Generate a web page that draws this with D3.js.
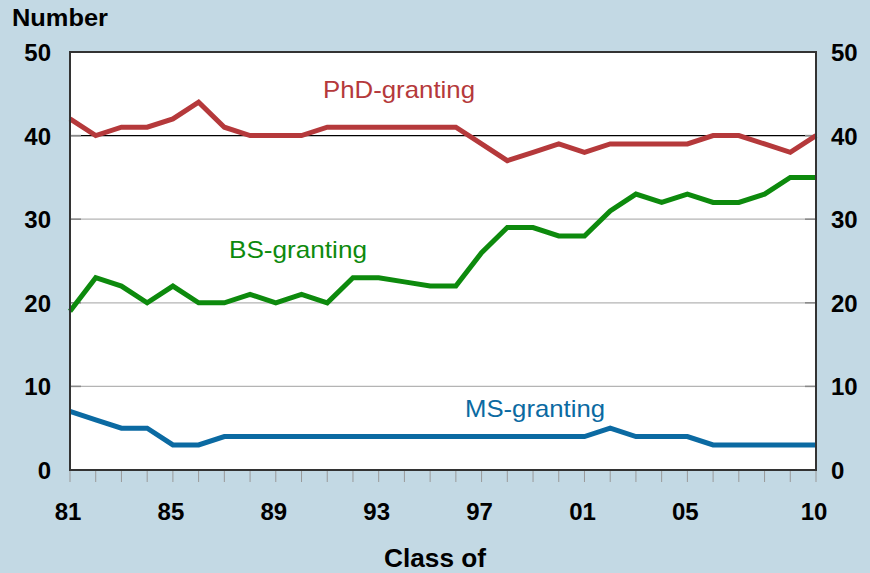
<!DOCTYPE html>
<html><head><meta charset="utf-8">
<script src="https://cdn.jsdelivr.net/npm/d3@7"></script>
<style>body{margin:0;background:#c3d9e4;}svg{display:block;}</style>
</head><body>
<svg id="chart" width="870" height="573"></svg>
<script>
const years = d3.range(1981, 2011);
const phd = [42,40,41,41,42,44,41,40,40,40,41,41,41,41,41,41,39,37,38,39,38,39,39,39,39,40,40,39,38,40];
const bs  = [19,23,22,20,22,20,20,21,20,21,20,23,23,22.5,22,22,26,29,29,28,28,31,33,32,33,32,32,33,35,35];
const ms  = [7,6,5,5,3,3,4,4,4,4,4,4,4,4,4,4,4,4,4,4,4,5,4,4,4,3,3,3,3,3];
const yTicks = [0,10,20,30,40,50];
const xTickLabels = [[1981,"81"],[1985,"85"],[1989,"89"],[1993,"93"],[1997,"97"],[2001,"01"],[2005,"05"],[2010,"10"]];
const seriesInfo = [
  {name:"PhD-granting", values:phd, color:"#b5393b", lx:323, ly:98, lw:152},
  {name:"BS-granting", values:bs, color:"#0d8a0d", lx:229, ly:258, lw:138},
  {name:"MS-granting", values:ms, color:"#0b6aa2", lx:465, ly:417, lw:140}
];

const svg = d3.select("#chart");
const L=70, R=816, T=52, B=470;
const x = d3.scaleLinear().domain([1981,2010]).range([L,R]);
const y = d3.scaleLinear().domain([0,50]).range([B,T]);
const font = "'Liberation Sans', Arial, sans-serif";

svg.append("rect").attr("width",870).attr("height",573).attr("fill","#c3d9e4");
svg.append("rect").attr("x",L).attr("y",T).attr("width",R-L).attr("height",B-T).attr("fill","#fff");

// gridlines
svg.append("g").selectAll("line").data(yTicks.filter(d=>d>0 && d<50)).join("line")
  .attr("x1",L).attr("x2",R).attr("y1",d=>y(d)).attr("y2",d=>y(d))
  .attr("stroke",d=>d===40?"#000":"#b4b4b4").attr("stroke-width",1.2);
// inner ticks
svg.append("g").selectAll("line").data(yTicks.filter(d=>d>0 && d<50)).join("line")
  .attr("x1",L).attr("x2",L+11).attr("y1",d=>y(d)).attr("y2",d=>y(d)).attr("stroke","#888").attr("stroke-width",1.5);
svg.append("g").selectAll("line").data(yTicks.filter(d=>d>0 && d<50)).join("line")
  .attr("x1",R-11).attr("x2",R).attr("y1",d=>y(d)).attr("y2",d=>y(d)).attr("stroke","#888").attr("stroke-width",1.5);

// x ticks below axis
svg.append("g").selectAll("line").data(years).join("line")
  .attr("x1",d=>x(d)).attr("x2",d=>x(d)).attr("y1",B).attr("y2",B+12)
  .attr("stroke","#999").attr("stroke-width",1);

// lines
const line = d3.line().x((d,i)=>x(years[i])).y(d=>y(d));
seriesInfo.forEach(s=>{
  svg.append("path").datum(s.values).attr("d",line).attr("fill","none")
    .attr("stroke",s.color).attr("stroke-width",5).attr("stroke-linejoin","miter");
  svg.append("text").attr("x",s.lx).attr("y",s.ly).attr("fill",s.color)
    .attr("font-family",font).attr("font-size",24).attr("textLength",s.lw).attr("lengthAdjust","spacingAndGlyphs").text(s.name);
});

// border
svg.append("rect").attr("x",L).attr("y",T).attr("width",R-L).attr("height",B-T)
  .attr("fill","none").attr("stroke","#333").attr("stroke-width",2);

// y labels
svg.append("g").selectAll("text").data(yTicks).join("text")
  .attr("x",51).attr("y",d=>y(d)+9).attr("text-anchor","end")
  .attr("font-family",font).attr("font-weight","bold").attr("font-size",24).text(d=>d);
svg.append("g").selectAll("text").data(yTicks).join("text")
  .attr("x",831).attr("y",d=>y(d)+9).attr("text-anchor","start")
  .attr("font-family",font).attr("font-weight","bold").attr("font-size",24).text(d=>d);

// x labels
svg.append("g").selectAll("text").data(xTickLabels).join("text")
  .attr("x",d=>x(d[0])-2).attr("y",520).attr("text-anchor","middle")
  .attr("font-family",font).attr("font-weight","bold").attr("font-size",24).text(d=>d[1]);

svg.append("text").attr("x",12).attr("y",26).attr("font-family",font).attr("font-weight","bold").attr("font-size",24)
  .attr("textLength",96).attr("lengthAdjust","spacingAndGlyphs").text("Number");
svg.append("text").attr("x",435).attr("y",567).attr("text-anchor","middle").attr("font-family",font).attr("font-weight","bold").attr("font-size",25)
  .attr("textLength",102).attr("lengthAdjust","spacingAndGlyphs").text("Class of");
</script>
</body></html>
